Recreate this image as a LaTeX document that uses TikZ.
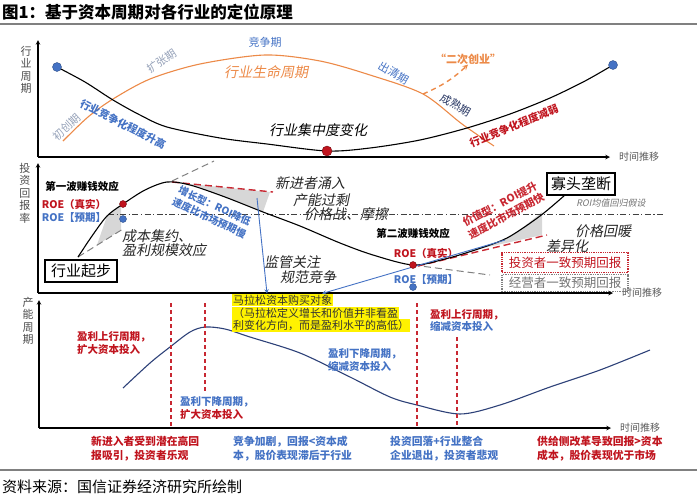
\documentclass[tikz,border=0pt]{standalone}
\usepackage{fontspec}
\setmainfont{Noto Sans CJK SC}
\newfontfamily\slantcjk{Noto Sans CJK SC}[FakeSlant=0.2]
\usetikzlibrary{positioning}

\definecolor{lifeorange}{RGB}{236,138,72}
\definecolor{phaseblue}{RGB}{68,114,196}
\definecolor{palephase}{RGB}{150,162,185}
\definecolor{darknavy}{RGB}{40,55,100}
\definecolor{hotred}{RGB}{192,20,30}
\definecolor{dashred}{RGB}{200,40,50}
\definecolor{curvenavy}{RGB}{45,65,120}
\definecolor{shadegray}{RGB}{215,215,215}

\begin{document}
\begin{tikzpicture}[x=1pt, y=-1pt, >=stealth,
    axis/.style={->, line width=1.1pt},
    axislbl/.style={inner sep=0pt, align=center, text=black!70, font=\fontsize{11}{12.5}\selectfont},
    timelbl/.style={inner sep=0pt, text=black!65, font=\fontsize{10}{12}\selectfont},
    phase/.style={inner sep=0pt, font=\fontsize{11}{13}\selectfont},
    lbl/.style={inner sep=0pt, font=\fontsize{10.5}{13}\selectfont\bfseries},
    note/.style={inner sep=0pt, text=black!85, font=\slantcjk\fontsize{14}{15.5}\selectfont},
    framed/.style={draw, line width=1.1pt, inner sep=0pt, minimum height=22pt, font=\fontsize{15}{17}\selectfont},
    markdot/.style={circle, inner sep=0pt, minimum size=#1},
    bluedot/.style={markdot=#1, fill=phaseblue, draw=phaseblue!70!black},
    reddot/.style={markdot=#1, fill=hotred, draw=hotred!60!black},
    ylw/.style={anchor=west, fill=yellow, inner xsep=1pt, inner ysep=0pt, minimum height=12.5pt, text=black!80, font=\fontsize{11}{12.5}\selectfont},
    bottomtxt/.style={anchor=west, align=left, inner sep=0pt, font=\fontsize{10.8}{13.5}\selectfont\bfseries}]
  \useasboundingbox (0,0) rectangle (700,496);

  % Title
  \node[anchor=west, inner sep=0pt, font=\fontsize{16.5}{18}\selectfont\bfseries] (title) at (2,12) {图1：基于资本周期对各行业的定位原理};
  \draw[gray, line width=1.2pt] (0,24) -- (697,24);

  % ---------------- Panel 1: industry cycle
  \coordinate (o1) at (38,157);
  \coordinate (x1) at (610,157);
  \draw[axis] (o1) -- (38,40);
  \draw[axis] (o1) -- (x1);
  \node[timelbl, right=9pt of x1] (t1) {时间推移};
  \node[axislbl] (ylab1) at (26,70) {行\\业\\周\\期};

  % life cycle curve
  \draw[lifeorange, line width=1.1pt] plot[smooth] coordinates {(63,141) (88,117) (113,99) (150,79) (200,64) (265,55) (320,61) (370,75) (423,94) (462,124) (494,146)};
  % concentration curve
  \draw[line width=1.1pt] plot[smooth] coordinates {(57,67) (85,82) (113,100) (140,115) (167,127) (220,138) (267,144) (327,151) (370,148) (420,140) (467,128) (510,114) (550,98) (585,81) (613,65)};
  \node[bluedot=9pt] (p1a) at (57,67) {};
  \node[bluedot=9pt] (p1b) at (613,65) {};
  \node[reddot=10pt] (p1c) at (327,151) {};

  % phase labels
  \node[phase, text=palephase, rotate=42] (ph1) at (67,127) {初创期};
  \node[phase, text=palephase, rotate=33] (ph2) at (162,61) {扩张期};
  \node[phase, text=phaseblue] (ph3) at (265,42) {竞争期};
  \node[phase, text=phaseblue, rotate=-30] (ph4) at (394,73) {出清期};
  \node[phase, text=darknavy, rotate=-30] (ph5) at (456,105) {成熟期};
  \node[phase, text=lifeorange, font=\fontsize{11}{13}\selectfont\bfseries] (second) at (468,59) {“二次创业”};
  \coordinate (sc0) at (423,94);
  \draw[->, lifeorange, line width=1.4pt, dash pattern=on 5pt off 4pt] (sc0) to[bend right=10] (second.south);

  \node[note, text=lifeorange] (life) at (266,72) {行业生命周期};
  \node[note, text=black] (conc) at (318,130) {行业集中度变化};
  \node[lbl, text=phaseblue, rotate=-27] (up) at (123,124) {行业竞争化程度升高};
  \node[lbl, text=hotred, rotate=22] (down) at (514,126) {行业竞争化程度减弱};

  % ---------------- Panel 2: return on investment
  \coordinate (o2) at (38,293);
  \coordinate (x2) at (613,293);
  \draw[axis] (o2) -- (38,163);
  \draw[axis] (o2) -- (x2);
  \node[timelbl, right=9pt of x2] (t2) {时间推移};
  \node[axislbl] (ylab2) at (25,193) {投\\资\\回\\报\\率};

  % shaded gaps
  \fill[shadegray] (97,245) -- (107,216) -- (121,205) -- (121,230) -- cycle;
  \fill[shadegray] (180,183) -- (270,192) -- (263,212) -- (225,197) -- (195,186) -- cycle;
  \fill[shadegray] (465,252) -- (490,245) -- (515,234) -- (542,212) -- (542,235) -- cycle;

  % mean reversion line
  \draw[black!75, line width=0.8pt, dash pattern=on 6pt off 2.5pt on 1.2pt off 2.5pt] (108,214) -- (665,214);
  \node[inner sep=0pt, text=black!55, font=\slantcjk\fontsize{9}{11}\selectfont] (roi) at (611,203) {ROI均值回归假设};

  % expectation lines
  \draw[gray, line width=1pt, dash pattern=on 7pt off 4pt] (78,257) -- (123,229);
  \draw[gray, line width=1pt, dash pattern=on 7pt off 4pt] (172,181) -- (214,161);
  \draw[gray, line width=1pt, dash pattern=on 7pt off 4pt] (413,265) -- (490,275);
  \draw[dashred, line width=1.4pt, dash pattern=on 7pt off 4pt] (172,182) -- (273,192);
  \draw[dashred, line width=1.4pt, dash pattern=on 7pt off 4pt] (418,266) -- (547,235);

  % return curve
  \draw[line width=1.1pt] plot[smooth] coordinates {(78,257) (92,236) (107,216) (123,204) (145,190) (167,182) (190,185) (225,197) (263,212) (300,226) (340,243) (373,255) (413,265) (445,259) (475,250) (507,238) (540,216) (565,195)};

  \node[framed, minimum width=72pt] (begin) at (81,271) {行业起步};
  \node[framed, minimum width=68pt] (oligo) at (581,184) {寡头垄断};

  % wave labels
  \node[lbl] (wave1) at (82,186) {第一波赚钱效应};
  \node[lbl, text=hotred] (real1) at (74,204) {ROE（真实）};
  \node[lbl, text=phaseblue] (exp1) at (74,218) {ROE【预期】};
  \node[reddot=7pt] (r1) at (123,204) {};
  \node[bluedot=7pt] (b1) at (123,219) {};

  \node[lbl] (wave2) at (413,233) {第二波赚钱效应};
  \node[lbl, text=hotred] (real2) at (426,253) {ROE（真实）};
  \node[lbl, text=phaseblue] (exp2) at (426,280) {ROE【预期】};
  \node[bluedot=7pt] (b2) at (413,287) {};

  \node[note, anchor=west, align=left, font=\slantcjk\fontsize{14}{14}\selectfont] (scale) at (122,243.5) {成本集约、\\盈利规模效应};
  \node[note] (n1) at (310,183) {新进者涌入};
  \node[note] (n2) at (321,200) {产能过剩};
  \node[note] (n3) at (346,214) {价格战、摩擦};
  \node[note] (n4) at (292,262) {监管关注};
  \node[note] (n5) at (308,277) {规范竞争};
  \node[note] (n6) at (603,231) {价格回暖};
  \node[note] (n7) at (567,246) {差异化};

  \node[lbl, text=phaseblue, align=center, rotate=-25, font=\fontsize{10}{13}\selectfont\bfseries] (growth) at (212,212) {增长型：ROI降低\\速度比市场预期慢};
  \node[lbl, text=dashred, align=center, rotate=28, font=\fontsize{10.5}{13.5}\selectfont\bfseries] (value) at (503,210) {价值型：ROI提升\\速度比市场预期快};

  % consensus boxes
  \node[draw=dashred, densely dotted, line width=1.3pt, minimum width=126pt, minimum height=20pt, inner sep=0pt, text=hotred, font=\fontsize{12.5}{14}\selectfont] (invest) at (565,262.5) {投资者一致预期回报};
  \node[draw=gray, densely dotted, line width=1.3pt, minimum width=126pt, minimum height=17pt, inner sep=0pt, text=black!55, font=\fontsize{12.5}{14}\selectfont] (operate) at (565,283) {经营者一致预期回报};

  % ---------------- Panel 3: capacity cycle
  \coordinate (o3) at (39,428);
  \coordinate (x3) at (611,428);
  \draw[axis] (o3) -- (39,300);
  \draw[axis] (o3) -- (x3);
  \node[timelbl, right=9pt of x3] (t3) {时间推移};
  \node[axislbl] (ylab3) at (28,321) {产\\能\\周\\期};

  \draw[curvenavy, line width=1.1pt] plot[smooth] coordinates {(123,388) (150,363) (170,347) (190,332) (205,327) (225,329) (250,337) (300,353) (350,377) (390,397) (417,405) (460,414) (500,405) (550,387) (600,370) (650,350)};

  \foreach \xx/\ya/\yb in {171/303/428, 205/303/392, 417/303/428, 457/337/428}
    \draw[dashred, line width=1.3pt, dash pattern=on 4pt off 3pt] (\xx,\ya) -- (\xx,\yb);

  \node[bottomtxt, text=hotred, font=\fontsize{10.5}{13}\selectfont\bfseries] (c1) at (77,343.5) {盈利上行周期，\\扩大资本投入};
  \node[bottomtxt, font=\fontsize{10.5}{13}\selectfont\bfseries] (c2) at (180,408.5) {\textcolor{phaseblue}{盈利下降周期，}\\\textcolor{hotred}{扩大资本投入}};
  \node[bottomtxt, text=phaseblue, font=\fontsize{10.5}{13.5}\selectfont\bfseries] (c3) at (328,360) {盈利下降周期，\\缩减资本投入};
  \node[bottomtxt, font=\fontsize{10.5}{12}\selectfont\bfseries] (c4) at (430,320.5) {\textcolor{hotred}{盈利上行周期，}\\\textcolor{phaseblue}{缩减资本投入}};

  % marathon capital
  \node[ylw] (ma1) at (232,300) {马拉松资本购买对象};
  \node[ylw] (ma2) at (232,313) {（马拉松定义增长和价值并非看盈};
  \node[ylw] (ma3) at (232,325.5) {利变化方向，而是盈利水平的高低）};
  \coordinate (g2) at (257,198);
  \coordinate (g3) at (505,240);
  \draw[->, phaseblue, line width=0.9pt] (g2) -- ([xshift=35pt]ma1.north west);
  \draw[->, phaseblue, line width=0.9pt] (g3) -- ([xshift=90pt]ma1.north west);
  \node[reddot=7pt] (r2) at (413,265) {};

  % ---------------- Bottom notes
  \node[bottomtxt, text=hotred] (s1) at (91,448.5) {新进入者受到潜在高回\\报吸引，投资者乐观};
  \node[bottomtxt, text=phaseblue] (s2) at (233,448.5) {竞争加剧，回报<资本成\\本，股价表现滞后于行业};
  \node[bottomtxt, text=phaseblue] (s3) at (390,448.5) {投资回落+行业整合\\企业退出，投资者悲观};
  \node[bottomtxt, text=hotred] (s4) at (537,448.5) {供给侧改革导致回报>资本\\成本，股价表现优于市场};

  \draw[gray, line width=1.2pt] (0,470) -- (697,470);
  \node[anchor=west, inner sep=0pt, font=\fontsize{15}{17}\selectfont] (source) at (2,487) {资料来源：国信证券经济研究所绘制};
\end{tikzpicture}
\end{document}
